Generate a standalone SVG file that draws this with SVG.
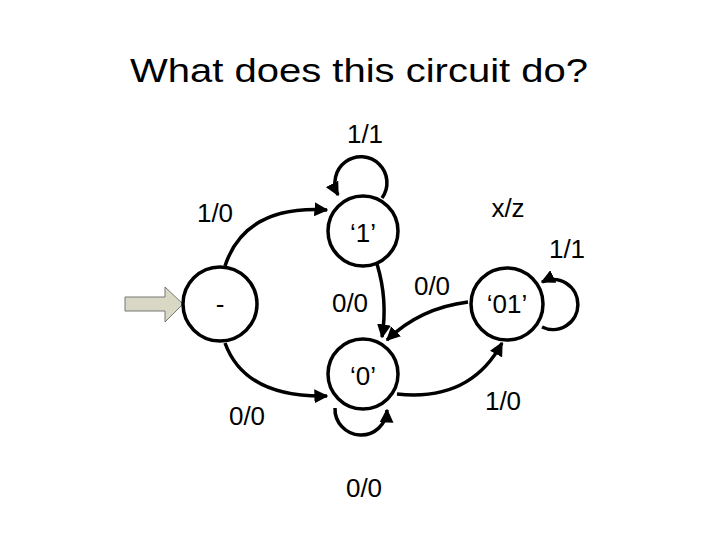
<svg xmlns="http://www.w3.org/2000/svg" width="720" height="540" viewBox="0 0 720 540">
<defs>
<marker id="ah" viewBox="0 0 10 10" refX="9" refY="5" markerWidth="4" markerHeight="4" orient="auto" markerUnits="strokeWidth"><path d="M0,0 L10,5 L0,10 z" fill="#000"/></marker>
<style>
.n{fill:#fff;stroke:#000;stroke-width:3.5}
.e{fill:none;stroke:#000;stroke-width:3.5;marker-end:url(#ah)}
.t{font-family:"Liberation Sans",Arial,sans-serif;font-size:26px;text-anchor:middle;fill:#000}
</style>
</defs>
<rect width="720" height="540" fill="#fff"/>
<text x="359" y="82" font-family="Liberation Sans,Arial,sans-serif" font-size="34" text-anchor="middle" textLength="458" lengthAdjust="spacingAndGlyphs">What does this circuit do?</text>
<g id="connectors">
<path class="e" d="M225,266 Q245,205 327,210"/>
<path class="e" d="M225,343 Q245,398 327,396"/>
<path class="e" d="M377,264 Q388,300 382,337"/>
<path class="e" d="M468,302 Q420,308 387,340"/>
<path class="e" d="M397,394 Q470,402 502,343"/>
<path class="e" d="M382,198 A26,26 0 1 0 338,195"/>
<path class="e" d="M335,408 A26,26 0 1 0 387,410"/>
<path class="e" d="M542,327 A25,25 0 1 0 542,282"/>
<path d="M125,297 L165,297 L165,287 L183,304 L165,322 L165,311 L125,311 Z" fill="#d8d8c4" stroke="#777" stroke-width="1"/>
</g>
<g id="n-start"><circle class="n" cx="220" cy="304" r="37"/><text class="t" x="220" y="313">-</text></g>
<g id="n-1"><circle class="n" cx="363" cy="231" r="35"/><text class="t" x="363" y="242">‘1’</text></g>
<g id="n-0"><circle class="n" cx="363" cy="374" r="35"/><text class="t" x="363" y="385">‘0’</text></g>
<g id="n-01"><circle class="n" cx="507" cy="304" r="36"/><text class="t" x="507" y="313">‘01’</text></g>
<g id="labels">
<text class="t" x="365" y="143">1/1</text>
<text class="t" x="215" y="222">1/0</text>
<text class="t" x="508" y="217">x/z</text>
<text class="t" x="567" y="258">1/1</text>
<text class="t" x="350" y="312">0/0</text>
<text class="t" x="432" y="295">0/0</text>
<text class="t" x="247" y="425">0/0</text>
<text class="t" x="503" y="410">1/0</text>
<text class="t" x="364" y="497">0/0</text>
</g>
</svg>
